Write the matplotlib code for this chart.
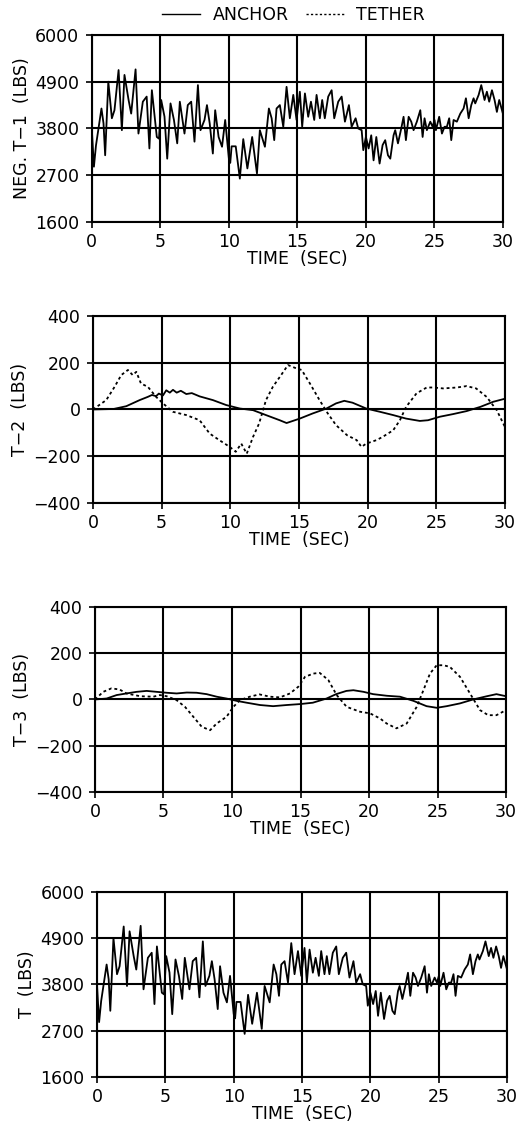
import matplotlib
matplotlib.use("Agg")
import matplotlib.pyplot as plt
from matplotlib.lines import Line2D

plt.rcParams["font.family"] = ["DejaVu Sans"]

# Tension at station 1 (sign flipped), sampled at the zig-zag vertices
t1_time = [0.0, 0.15, 0.3, 0.7, 0.85, 0.97, 1.2, 1.46, 1.65, 1.95, 2.19, 2.38, 2.68, 2.87,
           3.19, 3.4, 3.72, 4.0, 4.2, 4.38, 4.74, 4.9, 5.06, 5.3, 5.5, 5.74, 5.99, 6.23,
           6.42, 6.76, 7.0, 7.25, 7.49, 7.74, 7.93, 8.22, 8.4, 8.6, 8.83, 9.0, 9.25, 9.5,
           9.73, 10.0, 10.1, 10.2, 10.5, 10.8, 11.05, 11.35, 11.7, 12.05, 12.26, 12.63,
           12.92, 13.12, 13.31, 13.48, 13.72, 13.97, 14.21, 14.45, 14.7, 14.94, 15.18,
           15.35, 15.55, 15.79, 15.99, 16.23, 16.4, 16.64, 16.81, 17.0, 17.25, 17.5, 17.69,
           17.98, 18.23, 18.47, 18.76, 18.96, 19.25, 19.44, 19.69, 19.81, 20.0, 20.2, 20.39,
           20.56, 20.76, 21.0, 21.22, 21.41, 21.61, 21.78, 22.02, 22.14, 22.34, 22.58,
           22.75, 22.92, 23.12, 23.31, 23.48, 23.72, 23.97, 24.14, 24.28, 24.45, 24.7,
           24.87, 25.01, 25.11, 25.35, 25.55, 25.74, 25.91, 26.08, 26.23, 26.4, 26.64,
           26.89, 27.13, 27.3, 27.5, 27.69, 27.86, 27.98, 28.23, 28.42, 28.66, 28.83, 29.0,
           29.2, 29.39, 29.56, 29.73, 29.93, 30.0]
t1_lbs = [3760, 2900, 3400, 4270, 3920, 3170, 4900, 4040, 4230, 5175, 3760, 5060, 4470, 4150,
          5190, 3680, 4430, 4550, 3330, 4700, 3600, 3560, 4470, 4080, 3090, 4390, 4000, 3450,
          4430, 3680, 4350, 4430, 3490, 4820, 3760, 4000, 4350, 3920, 3210, 4230, 3600, 3370,
          4000, 3090, 2990, 3380, 3380, 2620, 3550, 2860, 3600, 2740, 3760, 3370,
          4270, 4040, 3525, 4270, 4350, 3840, 4780, 4040, 4590, 4000, 4665,
          3840, 4625, 4075, 4430, 4000, 4590, 4040, 4470, 4040, 4550, 4700, 4040,
          4430, 4550, 3960, 4350, 3840, 4040, 3800, 3760, 3290, 3600, 3330, 3640,
          3050, 3600, 2975, 3410, 3525, 3170, 3090, 3640, 3760, 3450, 3800,
          4075, 3525, 4075, 3960, 3760, 3960, 4230, 3600, 4040, 3760, 3960,
          3840, 4000, 3760, 4075, 3680, 3840, 3840, 4040, 3525, 4000, 3960,
          4150, 4270, 4510, 4040, 4350, 4510, 4390, 4590, 4820, 4470, 4665, 4430,
          4700, 4470, 4190, 4470, 4230, 4150]

# Total tension follows the same trace
t_total_time = t1_time
t_total_lbs = t1_lbs

# T-2, anchor and tether
t2_anchor_time = [0.0, 1.5, 2.43, 3.4, 4.0, 4.3, 4.6, 4.8, 5.1, 5.34, 5.6, 5.83, 6.1, 6.4,
                  6.8, 7.2, 7.77, 8.74, 9.7, 10.7, 11.66, 12.6, 13.6, 14.1, 15.06, 16.0,
                  17.0, 17.7, 18.3, 18.9, 19.9, 20.9, 21.86, 22.8, 23.8, 24.4, 25.26, 26.2,
                  27.2, 28.2, 29.15, 30.0]
t2_anchor_lbs = [0, 2, 14, 40, 54, 62, 57, 68, 60, 82, 72, 84, 72, 80,
                 66, 70, 56, 40, 19, 4, -3, -24, -46, -58, -39, -17,
                 4, 26, 37, 29, 4, -10, -24, -39, -49, -46, -31, -20,
                 -7, 11, 33, 46]
t2_tether_time = [0.0, 0.97, 1.58, 2.06, 2.55, 2.9, 3.16, 3.5, 4.0, 4.6, 5.1, 5.83, 6.8,
                  7.77, 8.5, 9.2, 9.96, 10.4, 10.8, 11.2, 11.66, 12.1, 12.6, 13.1, 13.7,
                  14.2, 14.8, 15.2, 15.8, 16.5, 17.1, 17.7, 18.5, 19.2, 19.55, 19.9, 20.65,
                  21.1, 21.86, 22.35, 22.8, 23.56, 24.3, 24.8, 25.5, 26.5, 27.2, 27.9, 28.66,
                  29.4, 30.0]
t2_tether_lbs = [0, 40, 97, 147, 169, 147, 161, 111, 97, 54, 26, -10, -24,
                 -46, -103, -131, -160, -181, -146, -189, -117, -60, 40, 97, 147,
                 190, 176, 169, 111, 40, -17, -67, -110, -131, -160, -146, -131,
                 -117, -89, -46, 11, 69, 94, 94, 90, 94, 100, 90, 54,
                 -3, -75]

# T-3, anchor and tether
t3_anchor_time = [0.0, 0.85, 1.58, 2.3, 3.04, 3.77, 4.5, 5.23, 5.96, 6.7, 7.42, 8.15, 8.88,
                  9.6, 10.34, 11.07, 12.04, 13.0, 14.0, 14.96, 15.9, 16.9, 17.6, 18.35,
                  18.86, 19.6, 20.3, 21.3, 22.26, 23.24, 24.2, 24.94, 25.67, 26.64, 27.6,
                  28.6, 29.3, 30.0]
t3_anchor_lbs = [0, 4, 19, 26, 33, 37, 33, 29, 26, 30, 29, 23, 12,
                 4, -6, -14, -24, -29, -24, -20, -14, 4, 23, 37,
                 40, 33, 23, 16, 12, -6, -29, -36, -29, -17, 0,
                 14, 23, 14]
t3_tether_time = [0.0, 0.6, 1.2, 1.8, 2.3, 3.3, 4.26, 4.74, 5.23, 5.96, 6.57, 7.18, 7.79,
                  8.4, 8.88, 9.6, 10.1, 10.58, 11.3, 12.0, 12.77, 13.5, 14.23, 14.84, 15.33,
                  15.94, 16.4, 17.03, 17.64, 18.37, 19.34, 20.07, 20.8, 21.29, 22.0, 22.75,
                  23.48, 23.97, 24.45, 24.94, 25.43, 25.9, 26.64, 27.37, 28.1, 28.7, 29.3,
                  30.0]
t3_tether_lbs = [0, 33, 48, 43, 26, 14, 12, 19, 14, -3, -32, -75, -118,
                 -133, -104, -75, -32, -3, 12, 22, 12, 9, 26, 55, 98,
                 112, 115, 84, 19, -32, -53, -60, -82, -104, -125, -104,
                 -32, 40, 112, 148, 148, 141, 98, 26, -46, -68, -68,
                 -46]

time_ticks = [0, 5, 10, 15, 20, 25, 30]
big_ticks = [1600, 2700, 3800, 4900, 6000]
small_ticks = [-400, -200, 0, 200, 400]

# axes boxes in figure fractions: left, bottom, width, height
boxes = [
    (0.177, 0.8025, 0.792, 0.1664),
    (0.179, 0.5525, 0.794, 0.1664),
    (0.183, 0.2954, 0.792, 0.1646),
    (0.187, 0.0420, 0.790, 0.1646),
]

FS = 12.5
LW = 1.3
DOT = (0, (1.6, 1.6))

fig = plt.figure(figsize=(5.19, 11.24), dpi=100)


def style(ax, yticks, ylabel):
    ax.set_xlim(0, 30)
    ax.set_ylim(yticks[0], yticks[-1])
    ax.set_xticks(time_ticks)
    ax.set_yticks(yticks)
    ax.grid(True, color="black", linewidth=1.5)
    for s in ax.spines.values():
        s.set_linewidth(1.5)
    ax.tick_params(axis="x", direction="out", length=4, width=1.2, labelsize=FS, pad=4)
    ax.tick_params(axis="y", direction="out", length=4, width=1.2, labelsize=FS, pad=5)
    ax.set_xlabel("TIME  (SEC)", fontsize=FS, labelpad=-1)
    ax.set_ylabel(ylabel, fontsize=FS, labelpad=3)


ax1 = fig.add_axes(boxes[0])
ax1.plot(t1_time, t1_lbs, color="black", lw=LW)
style(ax1, big_ticks, "NEG. T\u22121  (LBS)")

ax2 = fig.add_axes(boxes[1])
ax2.plot(t2_anchor_time, t2_anchor_lbs, color="black", lw=LW)
ax2.plot(t2_tether_time, t2_tether_lbs, color="black", lw=LW, linestyle=DOT)
style(ax2, small_ticks, "T\u22122  (LBS)")

ax3 = fig.add_axes(boxes[2])
ax3.plot(t3_anchor_time, t3_anchor_lbs, color="black", lw=LW)
ax3.plot(t3_tether_time, t3_tether_lbs, color="black", lw=LW, linestyle=DOT)
style(ax3, small_ticks, "T\u22123  (LBS)")

ax4 = fig.add_axes(boxes[3])
ax4.plot(t_total_time, t_total_lbs, color="black", lw=LW)
style(ax4, big_ticks, "T  (LBS)")

handles = [Line2D([], [], color="black", lw=1.0),
           Line2D([], [], color="black", lw=1.0, linestyle=DOT)]
fig.legend(handles, ["ANCHOR", "TETHER"], loc="center", bbox_to_anchor=(0.566, 0.9867),
           ncol=2, frameon=False, fontsize=FS, handlelength=2.2, handletextpad=0.7,
           columnspacing=1.0)

fig.savefig("out.png", dpi=100)
